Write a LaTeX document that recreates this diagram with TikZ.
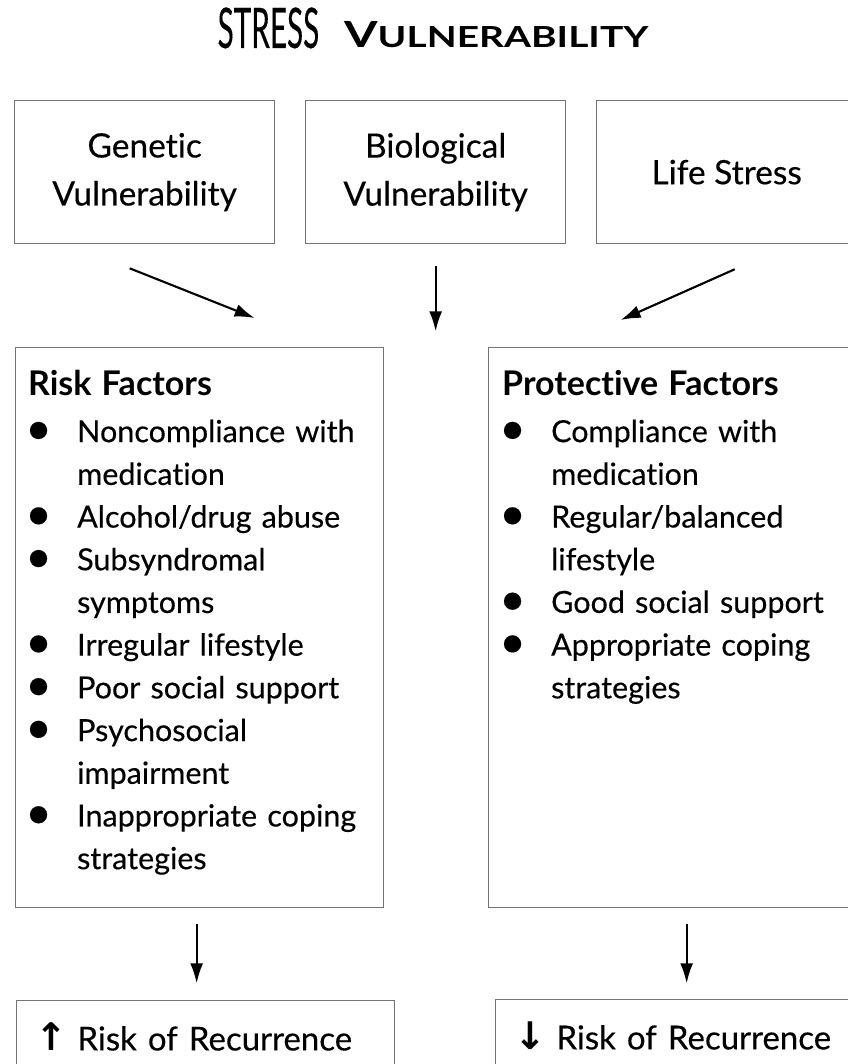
\documentclass[tikz,border=0pt]{standalone}
\usepackage{fontspec}
\usepackage{graphicx}
\setmainfont{Lato}[Ligatures=NoCommon, UprightFeatures={FakeBold=0.3}]
\newfontfamily\arrowfont{DejaVu Sans}
\usetikzlibrary{arrows.meta, positioning}

% one bullet line of a factor list, wrapped lines stay indented
\newcommand{\fitem}[1]{\par\leftskip=49pt\noindent
  \llap{\makebox[49pt][l]{\hspace{-3pt}\raisebox{-2pt}{\fontsize{46}{0}\selectfont\textbullet}}}#1}

\tikzset{
  frame/.style={draw=black!55, line width=1.3pt, inner sep=0pt, anchor=north west},
  topbox/.style={frame, minimum width=260pt, minimum height=143pt, align=center,
    font=\fontsize{33.5}{48}\selectfont},
  factorbox/.style={frame, minimum width=368pt, minimum height=560pt},
  factorlist/.style={anchor=north west, inner sep=0pt, text width=340pt, align=left,
    font=\fontsize{30.5}{42.7}\selectfont},
  outcome/.style={frame, minimum height=72pt, inner xsep=19pt, text width=340pt,
    align=left, font=\fontsize{33}{36}\selectfont},
  arr/.style={-{Latex[length=20pt,width=13pt]}, line width=2.1pt},
}

\begin{document}
\begin{tikzpicture}[x=1pt, y=-1pt]
  \useasboundingbox (0,0) rectangle (847,1064);

  % title
  \node[anchor=base, inner sep=0pt] (title) at (433,48)
    {\scalebox{0.53}[1]{\fontsize{56}{56}\selectfont STRESS}\hspace{25pt}%
     \scalebox{1.34}[1]{\bfseries\fontsize{36}{36}\selectfont V\fontsize{29}{29}\selectfont ULNERABILITY}};

  % sources of vulnerability
  \node[topbox] (gen)  at (14,100)  {Genetic\\Vulnerability};
  \node[topbox] (bio)  at (305,100) {Biological\\Vulnerability};
  \node[topbox] (life) at (596,100) {Life Stress};

  % risk and protective factors
  \node[factorbox] (risk) at (15,347)  {};
  \node[factorbox] (prot) at (488,347) {};

  \node[factorlist] (risklist) at ([shift={(13,23)}]risk.north west) {%
    {\bfseries\fontsize{34}{42.7}\selectfont Risk Factors}\par\vspace{4pt}
    \fitem{Noncompliance with\\medication}
    \fitem{Alcohol/drug abuse}
    \fitem{Subsyndromal\\symptoms}
    \fitem{Irregular lifestyle}
    \fitem{Poor social support}
    \fitem{Psychosocial\\impairment}
    \fitem{Inappropriate coping\\strategies}\par};

  \node[factorlist] (protlist) at ([shift={(14,23)}]prot.north west) {%
    {\bfseries\fontsize{34}{42.7}\selectfont Protective Factors}\par\vspace{4pt}
    \fitem{Compliance with\\medication}
    \fitem{Regular/balanced\\lifestyle}
    \fitem{Good social support}
    \fitem{Appropriate coping\\strategies}\par};

  % outcomes
  \node[outcome] (up)   at (16,1000)
    {{\arrowfont\bfseries\fontsize{38}{36}\selectfont ↑}\hspace{10pt}Risk of Recurrence};
  \node[outcome] (down) at (495,999)
    {{\arrowfont\bfseries\fontsize{38}{36}\selectfont ↓}\hspace{10pt}Risk of Recurrence};

  % connectors
  \draw[arr] ([shift={(-15,24)}]gen.south)  -- ([shift={(55,-29)}]risk.north);
  \draw[arr] ([shift={(0,22)}]bio.south)    -- ([shift={(0,87)}]bio.south);
  \draw[arr] ([shift={(8,25)}]life.south)   -- ([shift={(-52,-27)}]prot.north);
  \draw[arr] ([shift={(-3,16)}]risk.south)  -- ([shift={(-3,75)}]risk.south);
  \draw[arr] ([shift={(14,16)}]prot.south)  -- ([shift={(14,75)}]prot.south);
\end{tikzpicture}
\end{document}
